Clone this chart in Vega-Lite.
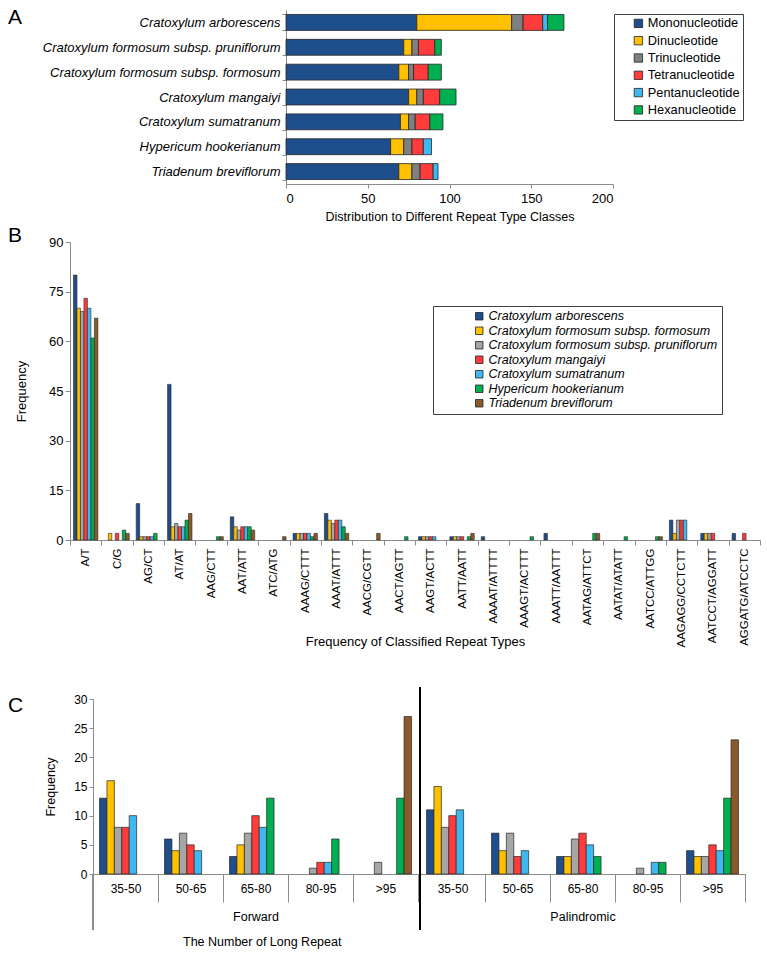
{
  "$schema": "https://vega.github.io/schema/vega-lite/v6.json",
  "padding": {"left": 7, "top": 4, "right": 4, "bottom": 4},
  "config": {
    "font": "Liberation Sans",
    "view": {"stroke": null},
    "axis": {"labelColor": "#000", "titleColor": "#000", "titleFontWeight": "normal", "domainColor": "#8c8c8c", "tickColor": "#8c8c8c", "grid": false, "labelFontSize": 12, "titleFontSize": 12.5},
    "legend": {"labelColor": "#000"},
    "title": {"fontWeight": "normal", "color": "#000"}
  },
  "datasets": {
    "classes": [
      {"species": "Cratoxylum arborescens", "cls": "Mononucleotide", "n": 80},
      {"species": "Cratoxylum arborescens", "cls": "Dinucleotide", "n": 58},
      {"species": "Cratoxylum arborescens", "cls": "Trinucleotide", "n": 7},
      {"species": "Cratoxylum arborescens", "cls": "Tetranucleotide", "n": 12},
      {"species": "Cratoxylum arborescens", "cls": "Pentanucleotide", "n": 3},
      {"species": "Cratoxylum arborescens", "cls": "Hexanucleotide", "n": 10},
      {"species": "Cratoxylum formosum subsp. pruniflorum", "cls": "Mononucleotide", "n": 72},
      {"species": "Cratoxylum formosum subsp. pruniflorum", "cls": "Dinucleotide", "n": 5},
      {"species": "Cratoxylum formosum subsp. pruniflorum", "cls": "Trinucleotide", "n": 4},
      {"species": "Cratoxylum formosum subsp. pruniflorum", "cls": "Tetranucleotide", "n": 10},
      {"species": "Cratoxylum formosum subsp. pruniflorum", "cls": "Hexanucleotide", "n": 4},
      {"species": "Cratoxylum formosum subsp. formosum", "cls": "Mononucleotide", "n": 69},
      {"species": "Cratoxylum formosum subsp. formosum", "cls": "Dinucleotide", "n": 6},
      {"species": "Cratoxylum formosum subsp. formosum", "cls": "Trinucleotide", "n": 3},
      {"species": "Cratoxylum formosum subsp. formosum", "cls": "Tetranucleotide", "n": 9},
      {"species": "Cratoxylum formosum subsp. formosum", "cls": "Hexanucleotide", "n": 8},
      {"species": "Cratoxylum mangaiyi", "cls": "Mononucleotide", "n": 75},
      {"species": "Cratoxylum mangaiyi", "cls": "Dinucleotide", "n": 5},
      {"species": "Cratoxylum mangaiyi", "cls": "Trinucleotide", "n": 4},
      {"species": "Cratoxylum mangaiyi", "cls": "Tetranucleotide", "n": 10},
      {"species": "Cratoxylum mangaiyi", "cls": "Hexanucleotide", "n": 10},
      {"species": "Cratoxylum sumatranum", "cls": "Mononucleotide", "n": 70},
      {"species": "Cratoxylum sumatranum", "cls": "Dinucleotide", "n": 5},
      {"species": "Cratoxylum sumatranum", "cls": "Trinucleotide", "n": 4},
      {"species": "Cratoxylum sumatranum", "cls": "Tetranucleotide", "n": 9},
      {"species": "Cratoxylum sumatranum", "cls": "Hexanucleotide", "n": 8},
      {"species": "Hypericum hookerianum", "cls": "Mononucleotide", "n": 64},
      {"species": "Hypericum hookerianum", "cls": "Dinucleotide", "n": 8},
      {"species": "Hypericum hookerianum", "cls": "Trinucleotide", "n": 5},
      {"species": "Hypericum hookerianum", "cls": "Tetranucleotide", "n": 7},
      {"species": "Hypericum hookerianum", "cls": "Pentanucleotide", "n": 5},
      {"species": "Triadenum breviflorum", "cls": "Mononucleotide", "n": 69},
      {"species": "Triadenum breviflorum", "cls": "Dinucleotide", "n": 8},
      {"species": "Triadenum breviflorum", "cls": "Trinucleotide", "n": 5},
      {"species": "Triadenum breviflorum", "cls": "Tetranucleotide", "n": 8},
      {"species": "Triadenum breviflorum", "cls": "Pentanucleotide", "n": 3}
    ],
    "repeats": [
      {"rep": "A/T", "sp": "Cratoxylum arborescens", "n": 80},
      {"rep": "A/T", "sp": "Cratoxylum formosum subsp. formosum", "n": 70},
      {"rep": "A/T", "sp": "Cratoxylum formosum subsp. pruniflorum", "n": 69},
      {"rep": "A/T", "sp": "Cratoxylum mangaiyi", "n": 73},
      {"rep": "A/T", "sp": "Cratoxylum sumatranum", "n": 70},
      {"rep": "A/T", "sp": "Hypericum hookerianum", "n": 61},
      {"rep": "A/T", "sp": "Triadenum breviflorum", "n": 67},
      {"rep": "C/G", "sp": "Cratoxylum formosum subsp. formosum", "n": 2},
      {"rep": "C/G", "sp": "Cratoxylum mangaiyi", "n": 2},
      {"rep": "C/G", "sp": "Hypericum hookerianum", "n": 3},
      {"rep": "C/G", "sp": "Triadenum breviflorum", "n": 2},
      {"rep": "AG/CT", "sp": "Cratoxylum arborescens", "n": 11},
      {"rep": "AG/CT", "sp": "Cratoxylum formosum subsp. formosum", "n": 1},
      {"rep": "AG/CT", "sp": "Cratoxylum formosum subsp. pruniflorum", "n": 1},
      {"rep": "AG/CT", "sp": "Cratoxylum mangaiyi", "n": 1},
      {"rep": "AG/CT", "sp": "Cratoxylum sumatranum", "n": 1},
      {"rep": "AG/CT", "sp": "Hypericum hookerianum", "n": 2},
      {"rep": "AT/AT", "sp": "Cratoxylum arborescens", "n": 47},
      {"rep": "AT/AT", "sp": "Cratoxylum formosum subsp. formosum", "n": 4},
      {"rep": "AT/AT", "sp": "Cratoxylum formosum subsp. pruniflorum", "n": 5},
      {"rep": "AT/AT", "sp": "Cratoxylum mangaiyi", "n": 4},
      {"rep": "AT/AT", "sp": "Cratoxylum sumatranum", "n": 4},
      {"rep": "AT/AT", "sp": "Hypericum hookerianum", "n": 6},
      {"rep": "AT/AT", "sp": "Triadenum breviflorum", "n": 8},
      {"rep": "AAG/CTT", "sp": "Hypericum hookerianum", "n": 1},
      {"rep": "AAG/CTT", "sp": "Triadenum breviflorum", "n": 1},
      {"rep": "AAT/ATT", "sp": "Cratoxylum arborescens", "n": 7},
      {"rep": "AAT/ATT", "sp": "Cratoxylum formosum subsp. formosum", "n": 4},
      {"rep": "AAT/ATT", "sp": "Cratoxylum formosum subsp. pruniflorum", "n": 3},
      {"rep": "AAT/ATT", "sp": "Cratoxylum mangaiyi", "n": 4},
      {"rep": "AAT/ATT", "sp": "Cratoxylum sumatranum", "n": 4},
      {"rep": "AAT/ATT", "sp": "Hypericum hookerianum", "n": 4},
      {"rep": "AAT/ATT", "sp": "Triadenum breviflorum", "n": 3},
      {"rep": "ATC/ATG", "sp": "Triadenum breviflorum", "n": 1},
      {"rep": "AAAG/CTTT", "sp": "Cratoxylum arborescens", "n": 2},
      {"rep": "AAAG/CTTT", "sp": "Cratoxylum formosum subsp. formosum", "n": 2},
      {"rep": "AAAG/CTTT", "sp": "Cratoxylum formosum subsp. pruniflorum", "n": 2},
      {"rep": "AAAG/CTTT", "sp": "Cratoxylum mangaiyi", "n": 2},
      {"rep": "AAAG/CTTT", "sp": "Cratoxylum sumatranum", "n": 2},
      {"rep": "AAAG/CTTT", "sp": "Hypericum hookerianum", "n": 1},
      {"rep": "AAAG/CTTT", "sp": "Triadenum breviflorum", "n": 2},
      {"rep": "AAAT/ATTT", "sp": "Cratoxylum arborescens", "n": 8},
      {"rep": "AAAT/ATTT", "sp": "Cratoxylum formosum subsp. formosum", "n": 6},
      {"rep": "AAAT/ATTT", "sp": "Cratoxylum formosum subsp. pruniflorum", "n": 5},
      {"rep": "AAAT/ATTT", "sp": "Cratoxylum mangaiyi", "n": 6},
      {"rep": "AAAT/ATTT", "sp": "Cratoxylum sumatranum", "n": 6},
      {"rep": "AAAT/ATTT", "sp": "Hypericum hookerianum", "n": 4},
      {"rep": "AAAT/ATTT", "sp": "Triadenum breviflorum", "n": 2},
      {"rep": "AACG/CGTT", "sp": "Triadenum breviflorum", "n": 2},
      {"rep": "AACT/AGTT", "sp": "Hypericum hookerianum", "n": 1},
      {"rep": "AAGT/ACTT", "sp": "Cratoxylum arborescens", "n": 1},
      {"rep": "AAGT/ACTT", "sp": "Cratoxylum formosum subsp. formosum", "n": 1},
      {"rep": "AAGT/ACTT", "sp": "Cratoxylum formosum subsp. pruniflorum", "n": 1},
      {"rep": "AAGT/ACTT", "sp": "Cratoxylum mangaiyi", "n": 1},
      {"rep": "AAGT/ACTT", "sp": "Cratoxylum sumatranum", "n": 1},
      {"rep": "AATT/AATT", "sp": "Cratoxylum arborescens", "n": 1},
      {"rep": "AATT/AATT", "sp": "Cratoxylum formosum subsp. formosum", "n": 1},
      {"rep": "AATT/AATT", "sp": "Cratoxylum formosum subsp. pruniflorum", "n": 1},
      {"rep": "AATT/AATT", "sp": "Cratoxylum mangaiyi", "n": 1},
      {"rep": "AATT/AATT", "sp": "Hypericum hookerianum", "n": 1},
      {"rep": "AATT/AATT", "sp": "Triadenum breviflorum", "n": 2},
      {"rep": "AAAAT/ATTTT", "sp": "Cratoxylum arborescens", "n": 1},
      {"rep": "AAAGT/ACTTT", "sp": "Hypericum hookerianum", "n": 1},
      {"rep": "AAATT/AATTT", "sp": "Cratoxylum arborescens", "n": 2},
      {"rep": "AATAG/ATTCT", "sp": "Hypericum hookerianum", "n": 2},
      {"rep": "AATAG/ATTCT", "sp": "Triadenum breviflorum", "n": 2},
      {"rep": "AATAT/ATATT", "sp": "Hypericum hookerianum", "n": 1},
      {"rep": "AATCC/ATTGG", "sp": "Hypericum hookerianum", "n": 1},
      {"rep": "AATCC/ATTGG", "sp": "Triadenum breviflorum", "n": 1},
      {"rep": "AAGAGG/CCTCTT", "sp": "Cratoxylum arborescens", "n": 6},
      {"rep": "AAGAGG/CCTCTT", "sp": "Cratoxylum formosum subsp. formosum", "n": 2},
      {"rep": "AAGAGG/CCTCTT", "sp": "Cratoxylum formosum subsp. pruniflorum", "n": 6},
      {"rep": "AAGAGG/CCTCTT", "sp": "Cratoxylum mangaiyi", "n": 6},
      {"rep": "AAGAGG/CCTCTT", "sp": "Cratoxylum sumatranum", "n": 6},
      {"rep": "AATCCT/AGGATT", "sp": "Cratoxylum arborescens", "n": 2},
      {"rep": "AATCCT/AGGATT", "sp": "Cratoxylum formosum subsp. formosum", "n": 2},
      {"rep": "AATCCT/AGGATT", "sp": "Cratoxylum formosum subsp. pruniflorum", "n": 2},
      {"rep": "AATCCT/AGGATT", "sp": "Cratoxylum mangaiyi", "n": 2},
      {"rep": "AGGATG/ATCCTC", "sp": "Cratoxylum arborescens", "n": 2},
      {"rep": "AGGATG/ATCCTC", "sp": "Cratoxylum mangaiyi", "n": 2}
    ],
    "longrep": [
      {"dir": "Forward", "len": "35-50", "sp": "Cratoxylum arborescens", "n": 13},
      {"dir": "Forward", "len": "35-50", "sp": "Cratoxylum formosum subsp. formosum", "n": 16},
      {"dir": "Forward", "len": "35-50", "sp": "Cratoxylum formosum subsp. pruniflorum", "n": 8},
      {"dir": "Forward", "len": "35-50", "sp": "Cratoxylum mangaiyi", "n": 8},
      {"dir": "Forward", "len": "35-50", "sp": "Cratoxylum sumatranum", "n": 10},
      {"dir": "Forward", "len": "50-65", "sp": "Cratoxylum arborescens", "n": 6},
      {"dir": "Forward", "len": "50-65", "sp": "Cratoxylum formosum subsp. formosum", "n": 4},
      {"dir": "Forward", "len": "50-65", "sp": "Cratoxylum formosum subsp. pruniflorum", "n": 7},
      {"dir": "Forward", "len": "50-65", "sp": "Cratoxylum mangaiyi", "n": 5},
      {"dir": "Forward", "len": "50-65", "sp": "Cratoxylum sumatranum", "n": 4},
      {"dir": "Forward", "len": "65-80", "sp": "Cratoxylum arborescens", "n": 3},
      {"dir": "Forward", "len": "65-80", "sp": "Cratoxylum formosum subsp. formosum", "n": 5},
      {"dir": "Forward", "len": "65-80", "sp": "Cratoxylum formosum subsp. pruniflorum", "n": 7},
      {"dir": "Forward", "len": "65-80", "sp": "Cratoxylum mangaiyi", "n": 10},
      {"dir": "Forward", "len": "65-80", "sp": "Cratoxylum sumatranum", "n": 8},
      {"dir": "Forward", "len": "65-80", "sp": "Hypericum hookerianum", "n": 13},
      {"dir": "Forward", "len": "80-95", "sp": "Cratoxylum formosum subsp. pruniflorum", "n": 1},
      {"dir": "Forward", "len": "80-95", "sp": "Cratoxylum mangaiyi", "n": 2},
      {"dir": "Forward", "len": "80-95", "sp": "Cratoxylum sumatranum", "n": 2},
      {"dir": "Forward", "len": "80-95", "sp": "Hypericum hookerianum", "n": 6},
      {"dir": "Forward", "len": ">95", "sp": "Cratoxylum formosum subsp. pruniflorum", "n": 2},
      {"dir": "Forward", "len": ">95", "sp": "Hypericum hookerianum", "n": 13},
      {"dir": "Forward", "len": ">95", "sp": "Triadenum breviflorum", "n": 27},
      {"dir": "Palindromic", "len": "35-50", "sp": "Cratoxylum arborescens", "n": 11},
      {"dir": "Palindromic", "len": "35-50", "sp": "Cratoxylum formosum subsp. formosum", "n": 15},
      {"dir": "Palindromic", "len": "35-50", "sp": "Cratoxylum formosum subsp. pruniflorum", "n": 8},
      {"dir": "Palindromic", "len": "35-50", "sp": "Cratoxylum mangaiyi", "n": 10},
      {"dir": "Palindromic", "len": "35-50", "sp": "Cratoxylum sumatranum", "n": 11},
      {"dir": "Palindromic", "len": "50-65", "sp": "Cratoxylum arborescens", "n": 7},
      {"dir": "Palindromic", "len": "50-65", "sp": "Cratoxylum formosum subsp. formosum", "n": 4},
      {"dir": "Palindromic", "len": "50-65", "sp": "Cratoxylum formosum subsp. pruniflorum", "n": 7},
      {"dir": "Palindromic", "len": "50-65", "sp": "Cratoxylum mangaiyi", "n": 3},
      {"dir": "Palindromic", "len": "50-65", "sp": "Cratoxylum sumatranum", "n": 4},
      {"dir": "Palindromic", "len": "65-80", "sp": "Cratoxylum arborescens", "n": 3},
      {"dir": "Palindromic", "len": "65-80", "sp": "Cratoxylum formosum subsp. formosum", "n": 3},
      {"dir": "Palindromic", "len": "65-80", "sp": "Cratoxylum formosum subsp. pruniflorum", "n": 6},
      {"dir": "Palindromic", "len": "65-80", "sp": "Cratoxylum mangaiyi", "n": 7},
      {"dir": "Palindromic", "len": "65-80", "sp": "Cratoxylum sumatranum", "n": 5},
      {"dir": "Palindromic", "len": "65-80", "sp": "Hypericum hookerianum", "n": 3},
      {"dir": "Palindromic", "len": "80-95", "sp": "Cratoxylum formosum subsp. pruniflorum", "n": 1},
      {"dir": "Palindromic", "len": "80-95", "sp": "Cratoxylum sumatranum", "n": 2},
      {"dir": "Palindromic", "len": "80-95", "sp": "Hypericum hookerianum", "n": 2},
      {"dir": "Palindromic", "len": ">95", "sp": "Cratoxylum arborescens", "n": 4},
      {"dir": "Palindromic", "len": ">95", "sp": "Cratoxylum formosum subsp. formosum", "n": 3},
      {"dir": "Palindromic", "len": ">95", "sp": "Cratoxylum formosum subsp. pruniflorum", "n": 3},
      {"dir": "Palindromic", "len": ">95", "sp": "Cratoxylum mangaiyi", "n": 5},
      {"dir": "Palindromic", "len": ">95", "sp": "Cratoxylum sumatranum", "n": 4},
      {"dir": "Palindromic", "len": ">95", "sp": "Hypericum hookerianum", "n": 13},
      {"dir": "Palindromic", "len": ">95", "sp": "Triadenum breviflorum", "n": 23}
    ]
  },
  "columns": 1,
  "spacing": 2,
  "resolve": {"scale": {"color": "independent", "x": "independent", "y": "independent", "xOffset": "independent"}, "legend": {"color": "independent"}},
  "concat": [
    {
      "spacing": 0,
      "resolve": {"scale": {"color": "independent", "x": "independent", "y": "independent"}, "legend": {"color": "independent"}},
      "hconcat": [
        {"data": {"values": []}, "mark": "point", "width": 1, "height": 1, "view": {"fill": "white", "stroke": null}},
        {
          "data": {"name": "classes"},
          "transform": [{"calculate": "indexof(['Mononucleotide','Dinucleotide','Trinucleotide','Tetranucleotide','Pentanucleotide','Hexanucleotide'], datum.cls)", "as": "ord"}],
          "title": {"text": "A", "anchor": "start", "frame": "group", "dx": -278, "dy": 28, "fontSize": 21},
          "width": 327,
          "height": 174,
          "mark": {"type": "bar", "stroke": "#262626", "strokeWidth": 0.8},
          "encoding": {
            "y": {
              "field": "species", "type": "nominal",
              "scale": {"domain": ["Cratoxylum arborescens", "Cratoxylum formosum subsp. pruniflorum", "Cratoxylum formosum subsp. formosum", "Cratoxylum mangaiyi", "Cratoxylum sumatranum", "Hypericum hookerianum", "Triadenum breviflorum"], "paddingInner": 0.36, "paddingOuter": 0.18},
              "axis": {"title": null, "labelFontStyle": "italic", "labelFontSize": 13, "tickBand": "extent", "tickSize": 4, "labelPadding": 2, "labelLimit": 320}
            },
            "x": {
              "field": "n", "type": "quantitative", "stack": "zero",
              "scale": {"domain": [0, 200]},
              "axis": {"values": [0, 50, 100, 150, 200], "title": "Distribution to Different Repeat Type Classes", "labelFontSize": 13, "tickSize": 4, "labelPadding": 4, "titlePadding": 5, "titleFontSize": 12.5}
            },
            "order": {"field": "ord", "type": "quantitative"},
            "color": {
              "field": "cls", "type": "nominal",
              "scale": {"domain": ["Mononucleotide", "Dinucleotide", "Trinucleotide", "Tetranucleotide", "Pentanucleotide", "Hexanucleotide"], "range": ["#1F4E8C", "#FFC000", "#808080", "#FF3B3B", "#3DB8F0", "#00B050"]},
              "legend": {"title": null, "orient": "none", "legendX": 328, "legendY": 4, "strokeColor": "#404040", "padding": 3, "symbolType": "square", "symbolSize": 70, "symbolStrokeColor": "#222", "symbolStrokeWidth": 0.8, "labelFontSize": 12.8, "rowPadding": 3.3, "symbolOffset": 15, "labelOffset": 3}
            }
          }
        }
      ]
    },
    {
      "columns": 1,
      "spacing": 37,
      "resolve": {"scale": {"color": "independent", "x": "independent", "y": "independent", "xOffset": "independent"}, "legend": {"color": "independent"}},
      "concat": [
        {
          "spacing": 0,
          "resolve": {"scale": {"color": "independent", "x": "independent", "y": "independent", "xOffset": "independent"}, "legend": {"color": "independent"}},
          "hconcat": [
            {"data": {"values": []}, "mark": "point", "width": 1, "height": 1, "view": {"fill": "white", "stroke": null}},
            {
              "data": {"name": "repeats"},
              "title": {"text": "B", "anchor": "start", "frame": "group", "dx": -62, "dy": 14, "fontSize": 21},
              "width": 690,
              "height": 298,
              "mark": {"type": "bar", "stroke": "#262626", "strokeWidth": 0.6},
              "encoding": {
                "x": {
                  "field": "rep", "type": "nominal",
                  "scale": {"domain": ["A/T", "C/G", "AG/CT", "AT/AT", "AAG/CTT", "AAT/ATT", "ATC/ATG", "AAAG/CTTT", "AAAT/ATTT", "AACG/CGTT", "AACT/AGTT", "AAGT/ACTT", "AATT/AATT", "AAAAT/ATTTT", "AAAGT/ACTTT", "AAATT/AATTT", "AATAG/ATTCT", "AATAT/ATATT", "AATCC/ATTGG", "AAGAGG/CCTCTT", "AATCCT/AGGATT", "AGGATG/ATCCTC"], "paddingInner": 0, "paddingOuter": 0},
                  "axis": {"title": "Frequency of Classified Repeat Types", "labelAngle": 270, "labelFontSize": 11.5, "tickBand": "extent", "tickSize": 5, "labelPadding": 3, "titlePadding": -12, "titleFontSize": 13}
                },
                "xOffset": {
                  "field": "sp", "type": "nominal",
                  "scale": {"domain": ["Cratoxylum arborescens", "Cratoxylum formosum subsp. formosum", "Cratoxylum formosum subsp. pruniflorum", "Cratoxylum mangaiyi", "Cratoxylum sumatranum", "Hypericum hookerianum", "Triadenum breviflorum"], "paddingInner": 0, "paddingOuter": 1.1}
                },
                "y": {
                  "field": "n", "type": "quantitative",
                  "scale": {"domain": [0, 90]},
                  "axis": {"values": [0, 15, 30, 45, 60, 75, 90], "title": "Frequency", "labelFontSize": 13, "tickSize": 5, "titlePadding": 20, "titleFontSize": 13}
                },
                "color": {
                  "field": "sp", "type": "nominal",
                  "scale": {"domain": ["Cratoxylum arborescens", "Cratoxylum formosum subsp. formosum", "Cratoxylum formosum subsp. pruniflorum", "Cratoxylum mangaiyi", "Cratoxylum sumatranum", "Hypericum hookerianum", "Triadenum breviflorum"], "range": ["#1F4E8C", "#FFC000", "#A6A6A6", "#FF3B3B", "#3DB8F0", "#00B050", "#8B5A2B"]},
                  "legend": {"title": null, "orient": "none", "legendX": 363, "legendY": 64, "strokeColor": "#404040", "padding": 4, "symbolType": "square", "symbolSize": 56, "symbolStrokeColor": "#222", "symbolStrokeWidth": 0.8, "labelFontSize": 12.5, "labelFontStyle": "italic", "rowPadding": 1.5, "symbolOffset": 36, "labelOffset": 3, "labelLimit": 400}
                }
              }
            }
          ]
        },
        {
          "spacing": 0,
          "resolve": {"scale": {"color": "independent", "x": "independent", "y": "independent", "xOffset": "independent"}, "legend": {"color": "independent"}},
          "hconcat": [
            {"data": {"values": []}, "mark": "point", "width": 1, "height": 1, "view": {"fill": "white", "stroke": null}},
            {
              "data": {"name": "longrep"},
              "spacing": 0,
              "hconcat": [
                {
                  "title": {"text": "C", "anchor": "start", "frame": "group", "dx": -85, "dy": 27, "fontSize": 21},
                  "width": 325,
                  "height": 175,
                  "transform": [{"filter": "datum.dir == 'Forward'"}],
                  "layer": [
                    {
                      "mark": {"type": "bar", "stroke": "#262626", "strokeWidth": 0.7},
                      "encoding": {
                        "x": {
                          "field": "len", "type": "nominal",
                          "scale": {"domain": ["35-50", "50-65", "65-80", "80-95", ">95"], "paddingInner": 0, "paddingOuter": 0},
                          "axis": {"title": "Forward", "labelAngle": 0, "labelFontSize": 12, "tickBand": "extent", "tickSize": 28, "labelPadding": -19, "titlePadding": 8, "titleFontSize": 12.5}
                        },
                        "xOffset": {
                          "field": "sp", "type": "nominal",
                          "scale": {"domain": ["Cratoxylum arborescens", "Cratoxylum formosum subsp. formosum", "Cratoxylum formosum subsp. pruniflorum", "Cratoxylum mangaiyi", "Cratoxylum sumatranum", "Hypericum hookerianum", "Triadenum breviflorum"], "paddingInner": 0, "paddingOuter": 0.88}
                        },
                        "y": {
                          "field": "n", "type": "quantitative",
                          "scale": {"domain": [0, 30]},
                          "axis": {"values": [0, 5, 10, 15, 20, 25, 30], "title": "Frequency", "labelFontSize": 12, "tickSize": 4, "titlePadding": 16, "titleFontSize": 12.5}
                        },
                        "color": {
                          "field": "sp", "type": "nominal",
                          "scale": {"domain": ["Cratoxylum arborescens", "Cratoxylum formosum subsp. formosum", "Cratoxylum formosum subsp. pruniflorum", "Cratoxylum mangaiyi", "Cratoxylum sumatranum", "Hypericum hookerianum", "Triadenum breviflorum"], "range": ["#1F4E8C", "#FFC000", "#A6A6A6", "#FF3B3B", "#3DB8F0", "#00B050", "#8B5A2B"]},
                          "legend": null
                        }
                      }
                    },
                    {
                      "mark": {"type": "rule", "color": "#8c8c8c", "strokeWidth": 1, "clip": false},
                      "encoding": {
                        "x": {"datum": "35-50", "bandPosition": 0},
                        "y": {"datum": 0, "scale": {"domain": [0, 30]}, "axis": {"values": [0, 5, 10, 15, 20, 25, 30], "title": "Frequency", "labelFontSize": 12, "tickSize": 4, "titlePadding": 16, "titleFontSize": 12.5}},
                        "y2": {"datum": -9.5}
                      }
                    }
                  ]
                },
                {
                  "width": 325,
                  "height": 175,
                  "transform": [{"filter": "datum.dir == 'Palindromic'"}],
                  "layer": [
                    {
                      "mark": {"type": "bar", "stroke": "#262626", "strokeWidth": 0.7},
                      "encoding": {
                        "x": {
                          "field": "len", "type": "nominal",
                          "scale": {"domain": ["35-50", "50-65", "65-80", "80-95", ">95"], "paddingInner": 0, "paddingOuter": 0},
                          "axis": {"title": "Palindromic", "labelAngle": 0, "labelFontSize": 12, "tickBand": "extent", "tickSize": 28, "labelPadding": -19, "titlePadding": 8, "titleFontSize": 12.5}
                        },
                        "xOffset": {
                          "field": "sp", "type": "nominal",
                          "scale": {"domain": ["Cratoxylum arborescens", "Cratoxylum formosum subsp. formosum", "Cratoxylum formosum subsp. pruniflorum", "Cratoxylum mangaiyi", "Cratoxylum sumatranum", "Hypericum hookerianum", "Triadenum breviflorum"], "paddingInner": 0, "paddingOuter": 0.88}
                        },
                        "y": {
                          "field": "n", "type": "quantitative",
                          "scale": {"domain": [0, 30]},
                          "axis": {"title": null, "labels": false, "ticks": false, "domainColor": "#000", "domainWidth": 1}
                        },
                        "color": {
                          "field": "sp", "type": "nominal",
                          "scale": {"domain": ["Cratoxylum arborescens", "Cratoxylum formosum subsp. formosum", "Cratoxylum formosum subsp. pruniflorum", "Cratoxylum mangaiyi", "Cratoxylum sumatranum", "Hypericum hookerianum", "Triadenum breviflorum"], "range": ["#1F4E8C", "#FFC000", "#A6A6A6", "#FF3B3B", "#3DB8F0", "#00B050", "#8B5A2B"]},
                          "legend": null
                        }
                      }
                    },
                    {
                      "mark": {"type": "rule", "color": "#000", "strokeWidth": 1, "clip": false},
                      "encoding": {
                        "x": {"datum": "35-50", "bandPosition": 0},
                        "y": {"datum": 32, "scale": {"domain": [0, 30]}, "axis": {"title": null, "labels": false, "ticks": false, "domainColor": "#000", "domainWidth": 1}},
                        "y2": {"datum": -9.5}
                      }
                    }
                  ]
                }
              ],
              "title": {"text": "The Number of Long Repeat", "orient": "bottom", "anchor": "start", "frame": "bounds", "dx": 175, "fontSize": 12.5, "offset": 6},
              "resolve": {"scale": {"x": "independent", "y": "independent", "xOffset": "independent"}}
            }
          ]
        }
      ]
    }
  ]
}
